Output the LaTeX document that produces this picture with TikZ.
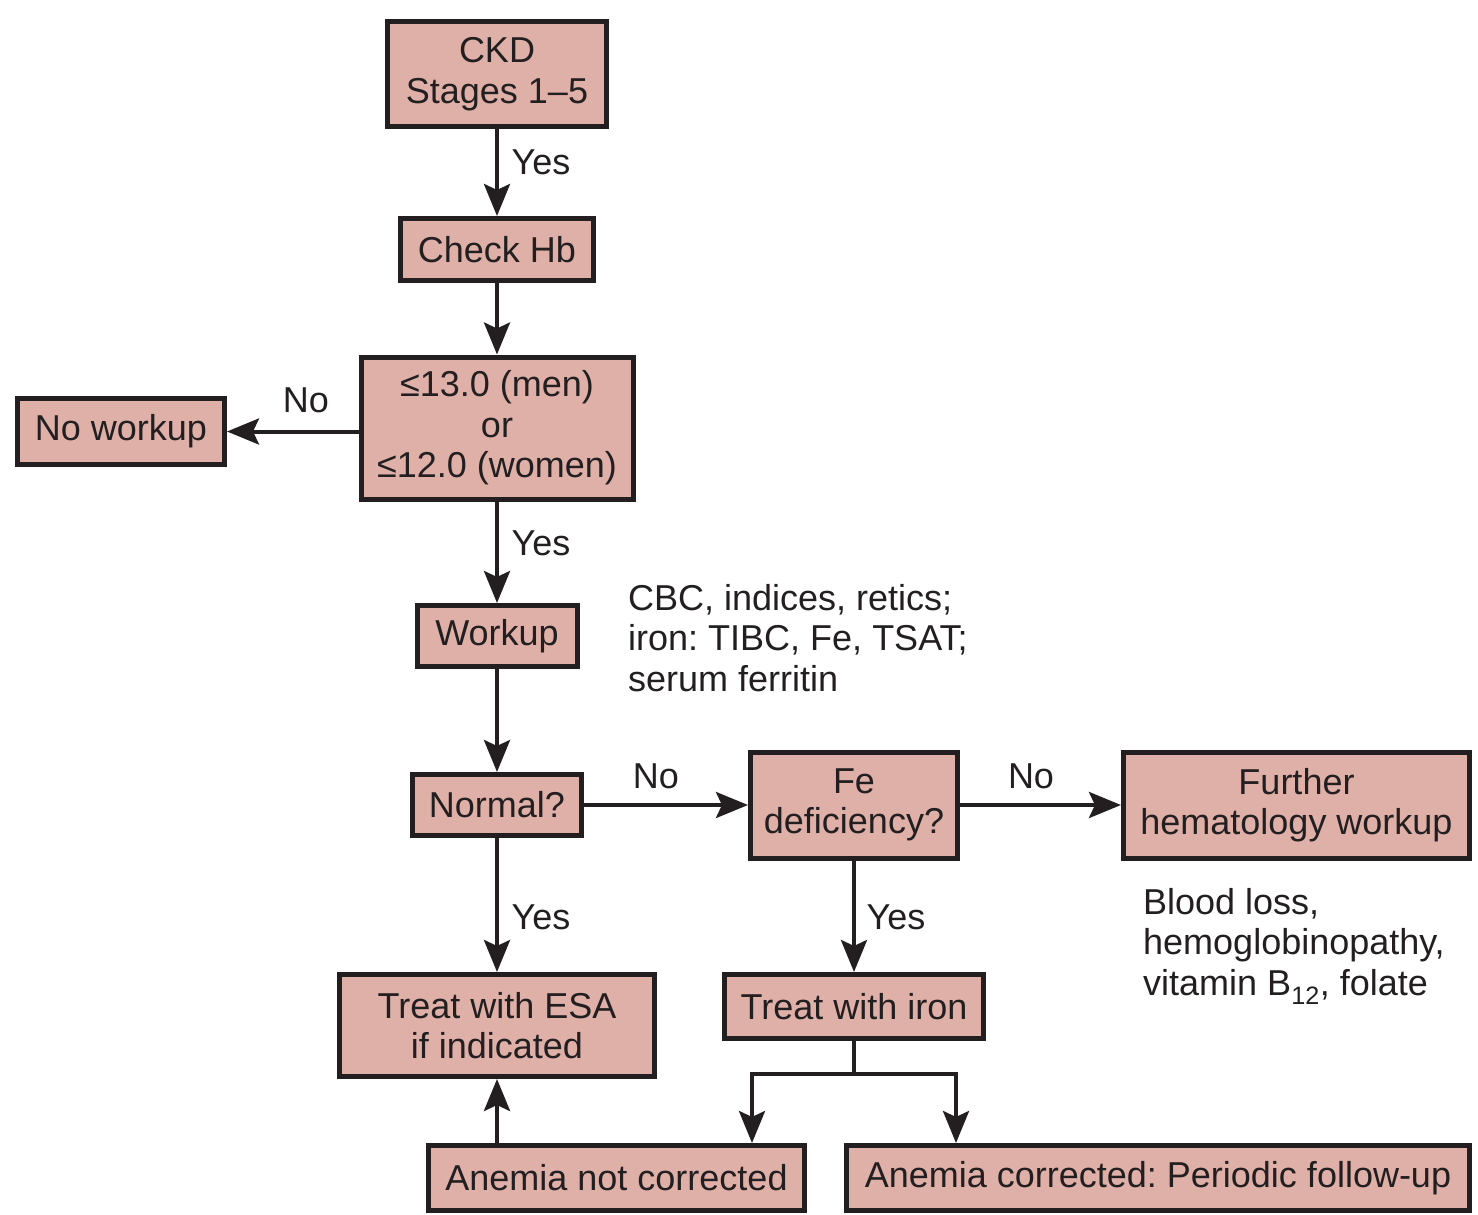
\documentclass[tikz,border=0pt]{standalone}
\usepackage{fontspec}
\setmainfont{Liberation Sans}
\usetikzlibrary{arrows.meta}
\definecolor{boxfill}{RGB}{222,176,168}
\definecolor{ink}{RGB}{35,31,32}
\tikzset{
  flowbox/.style={draw=ink, line width=5pt, fill=boxfill, align=center, inner sep=0pt,
    font=\fontsize{36}{40.5}\selectfont, text=ink},
  lbl/.style={font=\fontsize{36}{40.5}\selectfont, text=ink, inner sep=0pt},
  conn/.style={draw=ink, line width=4pt, -{Stealth[length=32pt,width=26pt,inset=6pt]}},
  plain/.style={draw=ink, line width=4pt}
}
\begin{document}
\frenchspacing
\begin{tikzpicture}[x=1pt,y=-1pt]
\useasboundingbox (0,0) rectangle (1478,1215);
\node[flowbox, minimum width=219pt, minimum height=105pt] (ckd) at (497,74) {CKD\\Stages 1–5};
\node[flowbox, minimum width=193pt, minimum height=62pt] (hb) at (497,249.5) {Check Hb};
\node[flowbox, minimum width=272pt, minimum height=142pt] (crit) at (497,428) {≤13.0 (men)\\or\\≤12.0 (women)};
\node[flowbox, minimum width=207pt, minimum height=66pt] (nowork) at (121,431.5) {No workup};
\node[flowbox, minimum width=160pt, minimum height=61pt] (work) at (497,636) {Workup};
\node[flowbox, minimum width=169pt, minimum height=61pt] (normal) at (497,805) {Normal?};
\node[flowbox, minimum width=207pt, minimum height=106pt] (fe) at (854,805) {Fe\\deficiency?};
\node[flowbox, minimum width=346pt, minimum height=106pt] (further) at (1296.5,805) {Further\\hematology workup};
\node[flowbox, minimum width=315pt, minimum height=102pt] (esa) at (497,1025.5) {Treat with ESA\\if indicated};
\node[flowbox, minimum width=259pt, minimum height=64pt] (iron) at (854,1006.5) {Treat with iron};
\node[flowbox, minimum width=376pt, minimum height=65pt] (notcorr) at (616.5,1178) {Anemia not corrected};
\node[flowbox, minimum width=623pt, minimum height=65pt] (corr) at (1158,1178) {Anemia corrected: Periodic follow-up};

\node[lbl, anchor=west, align=left] (cbc) at (628,638) {CBC, indices, retics;\\iron: TIBC, Fe, TSAT;\\serum ferritin};
\node[lbl, anchor=west, align=left] (blood) at (1143,946) {Blood loss,\\hemoglobinopathy,\\vitamin B\textsubscript{12}, folate};

\node[lbl] (y1) at (541,162) {Yes};
\node[lbl] (y2) at (541,543) {Yes};
\node[lbl] (y3) at (541,917) {Yes};
\node[lbl] (y4) at (896,917) {Yes};
\node[lbl] (n1) at (306,400) {No};
\node[lbl] (n2) at (656,776) {No};
\node[lbl] (n3) at (1031,776) {No};

\draw[conn] (ckd) -- (hb);
\draw[conn] (hb) -- (crit);
\draw[conn] (crit.west |- nowork) -- (nowork);
\draw[conn] (crit) -- (work);
\draw[conn] (work) -- (normal);
\draw[conn] (normal) -- (fe);
\draw[conn] (fe) -- (further);
\draw[conn] (normal) -- (esa);
\draw[conn] (fe) -- (iron);
\coordinate (split) at (854,1074);
\coordinate (sl) at (752,1074);
\coordinate (sr) at (956,1074);
\draw[plain] (iron.south) -- (split);
\draw[plain, line cap=rect] (sl) -- (sr);
\draw[conn] (sl) -- (sl |- notcorr.north);
\draw[conn] (sr) -- (sr |- corr.north);
\draw[conn] (notcorr.north -| esa) -- (esa.south);
\end{tikzpicture}
\end{document}
